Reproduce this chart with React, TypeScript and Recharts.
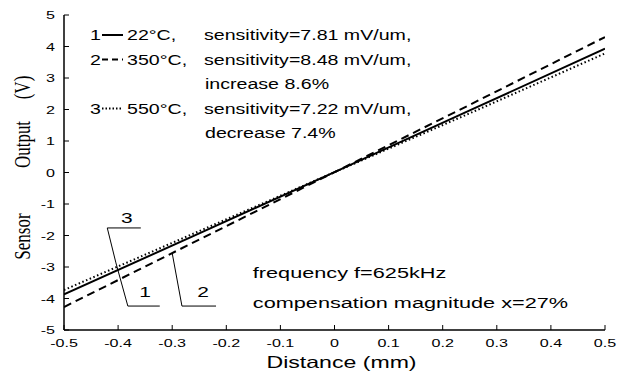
import { LineChart, Line, XAxis, YAxis, ReferenceDot, Legend } from "recharts";

const SANS = "'Liberation Sans', Arial, sans-serif";
const SERIF = "'Liberation Serif', 'Times New Roman', serif";
// the original figure is stretched sideways, so the text is too
const SX = 1.4;

const xTicks = [-0.5, -0.4, -0.3, -0.2, -0.1, 0, 0.1, 0.2, 0.3, 0.4, 0.5];
const yTicks = [-5, -4, -3, -2, -1, 0, 1, 2, 3, 4, 5];

const distance = [-0.5, -0.25, 0, 0.25, 0.5];
const output22 = [-3.87, -1.93, 0.01, 1.97, 3.93];
const output350 = [-4.27, -2.13, 0.01, 2.15, 4.3];
const output550 = [-3.73, -1.86, 0.01, 1.88, 3.78];

// leader lines pointing at the curves
const leader1X = [-0.404, -0.382, -0.323];
const leader1Y = [-2.87, -4.24, -4.24];
const leader2X = [-0.3, -0.282, -0.219];
const leader2Y = [-2.56, -4.24, -4.24];
const leader3X = [-0.358, -0.42, -0.404];
const leader3Y = [-1.76, -1.76, -2.87];

const curveLabels = ["1", "2", "3"];
const curveLabelX = [-0.35, -0.243, -0.384];
const curveLabelY = [-3.79, -3.79, -1.44];

const notes = ["frequency f=625kHz", "compensation magnitude x=27%"];
const noteX = -0.151;
const noteY = [-3.16, -4.11];

const legendNums = ["1", "2", "3"];
const legendTemps = ["22°C,", "350°C,", "550°C,"];
const legendSens = ["sensitivity=7.81 mV/um,", "sensitivity=8.48 mV/um,", "sensitivity=7.22 mV/um,"];
const legendChange = ["", "increase 8.6%", "decrease 7.4%"];

const seriesDash = [undefined, "8 5", "1.5 2.5"];
const legendDash = [undefined, "6 4", "1.5 2"];

const toPts = (xs: number[], ys: number[]) => xs.map((x, i) => ({ x, y: ys[i] }));

const AXIS = { stroke: "#000", strokeWidth: 1.5 };

const SText = ({ x, y, size, anchor = "start", family = SANS, children }: any) => (
  <text
    transform={`translate(${x},${y}) scale(${SX},1)`}
    fontSize={size}
    fontFamily={family}
    textAnchor={anchor}
    fill="#000"
  >
    {children}
  </text>
);

const BottomTick = (p: any) => (
  <g>
    <line x1={p.x} y1={p.y} x2={p.x} y2={p.y - 5} stroke="#000" />
    <SText x={p.x} y={p.y + 17} size={11.5} anchor="middle">
      {String(p.payload.value)}
    </SText>
  </g>
);

const TopTick = (p: any) => <line x1={p.x} y1={p.y} x2={p.x} y2={p.y + 5} stroke="#000" />;

const LeftTick = (p: any) => (
  <g>
    <line x1={p.x} y1={p.y} x2={p.x + 5} y2={p.y} stroke="#000" />
    <SText x={p.x - 9} y={p.y + 4} size={11.5} anchor="end">
      {String(p.payload.value)}
    </SText>
  </g>
);

const RightTick = (p: any) => <line x1={p.x} y1={p.y} x2={p.x - 5} y2={p.y} stroke="#000" />;

const XLabel = ({ viewBox }: any) => (
  <SText x={viewBox.x + viewBox.width / 2 + 7} y={viewBox.y + 38} size={16.5} anchor="middle">
    Distance (mm)
  </SText>
);

const YLabel = ({ viewBox }: any) => {
  const cy = viewBox.y + viewBox.height / 2;
  const word = (txt: string, dy: number) => (
    <text
      transform={`translate(30,${cy + dy}) scale(${SX},1) rotate(-90)`}
      fontSize={17}
      fontFamily={SERIF}
      textAnchor="middle"
      fill="#000"
    >
      {txt}
    </text>
  );
  return (
    <g>
      {word("Sensor", 64)}
      {word("Output", -28)}
      {word("(V)", -85)}
    </g>
  );
};

const NoteText = ({ viewBox, value, size, anchor }: any) => (
  <SText x={viewBox.x} y={viewBox.y + size * 0.36} size={size} anchor={anchor}>
    {value}
  </SText>
);

const renderLegend = () => {
  const rows = [35, 59.5, 84, 108.5, 133];
  const rowOf = [0, 1, 3];
  return (
    <svg width={430} height={145} style={{ display: "block" }}>
      {legendNums.map((n, i) => {
        const y = rows[rowOf[i]];
        return (
          <g key={n}>
            <SText x={90} y={y + 5} size={14}>{n}</SText>
            <line
              x1={102}
              y1={y}
              x2={123}
              y2={y}
              stroke="#000"
              strokeWidth={2}
              strokeDasharray={legendDash[i]}
            />
            <SText x={127} y={y + 5} size={14}>{legendTemps[i]}</SText>
            <SText x={204} y={y + 5} size={14}>{legendSens[i]}</SText>
            {legendChange[i] && (
              <SText x={205} y={rows[rowOf[i] + 1] + 5} size={14}>{legendChange[i]}</SText>
            )}
          </g>
        );
      })}
    </svg>
  );
};

export default function App() {
  return (
    <div style={{ position: "absolute", left: 0, top: 0, width: 624, height: 376, background: "#fff" }}>
      <LineChart width={624} height={376} margin={{ top: 15, right: 19, bottom: 0, left: 0 }}>
        <XAxis
          xAxisId="b"
          type="number"
          dataKey="x"
          domain={[-0.5, 0.5]}
          ticks={xTicks}
          interval={0}
          height={46}
          tickSize={0}
          tickMargin={0}
          tickLine={false}
          axisLine={AXIS}
          tick={<BottomTick />}
          label={<XLabel />}
          allowDataOverflow
        />
        <XAxis
          xAxisId="t"
          orientation="top"
          type="number"
          dataKey="x"
          domain={[-0.5, 0.5]}
          ticks={xTicks}
          interval={0}
          height={0}
          tickSize={0}
          tickMargin={0}
          tickLine={false}
          axisLine={AXIS}
          tick={<TopTick />}
          allowDataOverflow
        />
        <YAxis
          yAxisId="l"
          type="number"
          domain={[-5, 5]}
          ticks={yTicks}
          interval={0}
          width={64}
          tickSize={0}
          tickMargin={0}
          tickLine={false}
          axisLine={AXIS}
          tick={<LeftTick />}
          label={<YLabel />}
          allowDataOverflow
        />
        <YAxis
          yAxisId="r"
          orientation="right"
          type="number"
          domain={[-5, 5]}
          ticks={yTicks}
          interval={0}
          width={0}
          tickSize={0}
          tickMargin={0}
          tickLine={false}
          axisLine={AXIS}
          tick={<RightTick />}
          allowDataOverflow
        />
        <Legend
          layout="vertical"
          align="center"
          verticalAlign="middle"
          wrapperStyle={{ left: 0, top: 0, width: 430, height: 145 }}
          content={renderLegend}
        />
        {[output22, output350, output550].map((ys, i) => (
          <Line
            key={`s${i}`}
            xAxisId="b"
            yAxisId="l"
            data={toPts(distance, ys)}
            dataKey="y"
            stroke="#000"
            strokeWidth={2}
            strokeDasharray={seriesDash[i]}
            dot={false}
            isAnimationActive={false}
          />
        ))}
        {[
          [leader1X, leader1Y],
          [leader2X, leader2Y],
          [leader3X, leader3Y],
        ].map(([xs, ys], i) => (
          <Line
            key={`l${i}`}
            xAxisId="b"
            yAxisId="l"
            data={toPts(xs, ys)}
            dataKey="y"
            stroke="#000"
            strokeWidth={1}
            dot={false}
            isAnimationActive={false}
          />
        ))}
        {curveLabels.map((t, i) => (
          <ReferenceDot
            key={`c${i}`}
            xAxisId="b"
            yAxisId="l"
            x={curveLabelX[i]}
            y={curveLabelY[i]}
            r={0}
            fill="none"
            stroke="none"
            label={<NoteText value={t} size={15} anchor="middle" />}
          />
        ))}
        {notes.map((t, i) => (
          <ReferenceDot
            key={`n${i}`}
            xAxisId="b"
            yAxisId="l"
            x={noteX}
            y={noteY[i]}
            r={0}
            fill="none"
            stroke="none"
            label={<NoteText value={t} size={15.5} anchor="start" />}
          />
        ))}
      </LineChart>
    </div>
  );
}
